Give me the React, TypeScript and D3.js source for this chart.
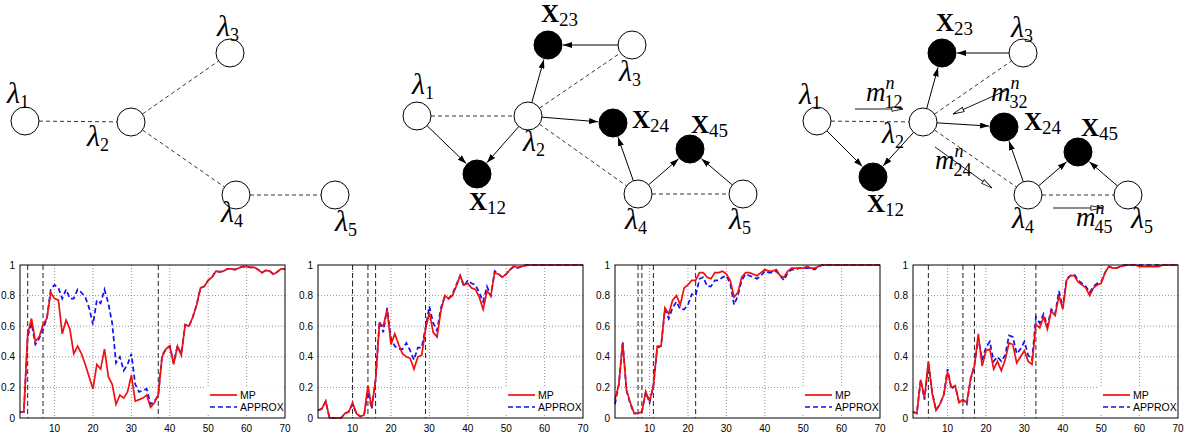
import React from "react";
import * as d3 from "d3";

const W = 1186;
const H = 436;

// ---- chart data (x = 1..70) ----
const mp1 = [0.04,0.04,0.55,0.65,0.50,0.53,0.61,0.65,0.82,0.78,
  0.77,0.55,0.64,0.58,0.42,0.47,0.42,0.35,0.27,0.19,
  0.35,0.32,0.45,0.27,0.22,0.09,0.15,0.13,0.17,0.28,
  0.11,0.12,0.13,0.15,0.07,0.10,0.15,0.40,0.45,0.47,
  0.35,0.47,0.41,0.61,0.60,0.66,0.74,0.85,0.86,0.90,
  0.92,0.96,0.955,0.96,0.975,0.975,0.97,0.98,0.99,0.99,
  0.985,0.985,0.97,0.95,0.965,0.96,0.94,0.955,0.975,0.975];
const approx1 = [0.04,0.04,0.53,0.62,0.48,0.52,0.58,0.65,0.84,0.87,
  0.85,0.78,0.84,0.78,0.78,0.84,0.82,0.79,0.72,0.61,
  0.77,0.75,0.84,0.75,0.62,0.36,0.40,0.31,0.35,0.42,
  0.22,0.17,0.18,0.19,0.09,0.11,0.15,0.41,0.45,0.47,
  0.36,0.47,0.42,0.61,0.60,0.66,0.74,0.85,0.86,0.90,
  0.92,0.96,0.955,0.96,0.975,0.975,0.97,0.98,0.99,0.99,
  0.985,0.985,0.97,0.95,0.965,0.96,0.94,0.955,0.975,0.975];
const mp2 = [0.05,0.06,0.11,0.00,0.00,0.00,0.00,0.03,0.04,0.10,
  0.03,0.01,0.02,0.21,0.07,0.25,0.62,0.60,0.71,0.48,
  0.55,0.48,0.42,0.40,0.39,0.32,0.40,0.41,0.58,0.69,
  0.56,0.53,0.70,0.80,0.78,0.80,0.86,0.93,0.87,0.88,
  0.85,0.84,0.79,0.71,0.83,0.80,0.95,0.94,0.92,0.94,
  0.97,0.99,0.985,0.99,0.995,1,1,1,1,1,
  1,1,1,1,1,1,1,1,1,1];
const approx2 = [0.05,0.06,0.11,0.00,0.00,0.00,0.00,0.03,0.04,0.09,
  0.03,0.01,0.02,0.17,0.06,0.25,0.63,0.56,0.72,0.52,
  0.47,0.45,0.45,0.49,0.44,0.38,0.46,0.46,0.59,0.73,
  0.62,0.57,0.72,0.79,0.78,0.81,0.87,0.93,0.86,0.90,
  0.88,0.87,0.82,0.76,0.86,0.80,0.96,0.94,0.92,0.94,
  0.97,0.99,0.98,0.99,1,1,1,1,1,1,
  1,1,1,1,1,1,1,1,1,1];
const mp3 = [0.12,0.22,0.49,0.18,0.10,0.03,0.03,0.04,0.17,0.11,
  0.21,0.47,0.47,0.72,0.68,0.77,0.80,0.74,0.85,0.87,
  0.90,0.90,0.95,0.95,0.92,0.91,0.95,0.95,0.96,0.94,
  0.90,0.79,0.82,0.92,0.95,0.95,0.94,0.93,0.95,0.97,
  0.96,0.96,0.97,0.93,0.92,0.96,0.98,0.98,0.98,0.98,
  0.99,0.98,0.98,0.99,1,1,1,1,1,1,
  1,1,1,1,1,1,1,1,1,1];
const approx3 = [0.09,0.22,0.50,0.18,0.09,0.03,0.03,0.04,0.17,0.10,
  0.21,0.46,0.47,0.71,0.65,0.72,0.76,0.71,0.71,0.74,
  0.81,0.80,0.91,0.92,0.86,0.86,0.90,0.90,0.92,0.93,
  0.88,0.74,0.80,0.90,0.94,0.93,0.92,0.91,0.93,0.96,
  0.95,0.95,0.96,0.93,0.90,0.95,0.97,0.97,0.98,0.98,
  0.98,0.98,0.97,0.99,1,1,1,1,1,1,
  1,1,1,1,1,1,1,1,1,1];
const mp4 = [0.04,0.03,0.25,0.13,0.37,0.16,0.05,0.09,0.15,0.30,
  0.20,0.21,0.10,0.12,0.10,0.26,0.34,0.55,0.34,0.44,
  0.45,0.32,0.37,0.31,0.38,0.49,0.48,0.36,0.40,0.44,
  0.37,0.35,0.61,0.59,0.66,0.58,0.70,0.67,0.80,0.71,
  0.90,0.93,0.93,0.89,0.87,0.85,0.80,0.85,0.87,0.88,
  0.95,0.99,0.98,0.98,0.99,0.995,1,1,1,0.99,
  0.99,0.99,0.99,0.99,0.99,1,1,1,1,1];
const approx4 = [0.04,0.03,0.25,0.12,0.36,0.17,0.05,0.09,0.15,0.32,
  0.19,0.21,0.10,0.12,0.09,0.25,0.35,0.52,0.38,0.46,
  0.50,0.37,0.40,0.37,0.41,0.54,0.53,0.42,0.45,0.50,
  0.41,0.38,0.66,0.62,0.68,0.60,0.71,0.68,0.83,0.72,
  0.91,0.93,0.94,0.90,0.88,0.86,0.82,0.86,0.88,0.89,
  0.95,0.99,0.98,0.98,0.99,1,1,1,1,1,
  1,1,1,1,1,1,1,1,1,1];

const marks1 = [3, 7, 37];
const marks2 = [10, 14, 16, 29];
const marks3 = [7, 8, 11, 22];
const marks4 = [5, 14, 17, 33];

const xTicks = [10, 20, 30, 40, 50, 60, 70];
const yTicks = [0, 0.2, 0.4, 0.6, 0.8, 1];
const yTickLabels = ["0", "0.2", "0.4", "0.6", "0.8", "1"];
const seriesNames = ["MP", "APPROX"];

const panels = [
  { mp: mp1, approx: approx1, marks: marks1, left: 20 },
  { mp: mp2, approx: approx2, marks: marks2, left: 318 },
  { mp: mp3, approx: approx3, marks: marks3, left: 615 },
  { mp: mp4, approx: approx4, marks: marks4, left: 913 },
];

const plotW = 265;
const plotTop = 265;
const plotBottom = 418;
const axisFont = "'Liberation Sans', Arial, sans-serif";
const texFont = "'Liberation Serif', 'DejaVu Serif', serif";
const red = "#f01010";
const blue = "#1010f0";

function Panel({ mp, approx, marks, left }) {
  const x = d3.scaleLinear().domain([1, 70]).range([left, left + plotW]);
  const y = d3.scaleLinear().domain([0, 1]).range([plotBottom, plotTop]);
  const line = d3.line<number>().x((_, i) => x(i + 1)).y(d => y(d));
  return (
    <g>
      {xTicks.filter(t => t < 70).map(t => (
        <line key={"gx" + t} x1={x(t)} x2={x(t)} y1={plotTop} y2={plotBottom}
          stroke="#777" strokeWidth={0.8} strokeDasharray="1,2" />
      ))}
      {yTicks.filter(t => t > 0 && t < 1).map(t => (
        <line key={"gy" + t} x1={left} x2={left + plotW} y1={y(t)} y2={y(t)}
          stroke="#777" strokeWidth={0.8} strokeDasharray="1,2" />
      ))}
      {marks.map(m => (
        <line key={"m" + m} x1={x(m)} x2={x(m)} y1={plotTop} y2={plotBottom}
          stroke="#222" strokeWidth={1} strokeDasharray="5,3" />
      ))}
      <path d={line(approx) || ""} fill="none" stroke={blue} strokeWidth={1.7} strokeDasharray="5,3" />
      <path d={line(mp) || ""} fill="none" stroke={red} strokeWidth={1.7} />
      <rect x={left} y={plotTop} width={plotW} height={plotBottom - plotTop} fill="none" stroke="#000" strokeWidth={1} />
      {xTicks.map(t => (
        <text key={"xt" + t} x={x(t)} y={plotBottom + 14} fontSize={10} textAnchor="middle" fontFamily={axisFont}>{t}</text>
      ))}
      {yTicks.map((t, i) => (
        <text key={"yt" + t} x={left - 5} y={y(t) + 3.5} fontSize={10} textAnchor="end" fontFamily={axisFont}>{yTickLabels[i]}</text>
      ))}
      <g>
        <rect x={left + 186} y={plotBottom - 31} width={77} height={28} fill="#fff" />
        <line x1={left + 190} x2={left + 217} y1={plotBottom - 23} y2={plotBottom - 23} stroke={red} strokeWidth={1.7} />
        <text x={left + 220} y={plotBottom - 19.5} fontSize={10.5} fontFamily={axisFont}>{seriesNames[0]}</text>
        <line x1={left + 190} x2={left + 217} y1={plotBottom - 11} y2={plotBottom - 11} stroke={blue} strokeWidth={1.7} strokeDasharray="5,3" />
        <text x={left + 220} y={plotBottom - 7.5} fontSize={10.5} fontFamily={axisFont}>{seriesNames[1]}</text>
      </g>
    </g>
  );
}

// ---- graphical model diagrams ----
const R = 14;

function Lam({ x, y, i }) {
  return (
    <text x={x} y={y} fontFamily={texFont} fontSize={30} fontStyle="italic">
      λ<tspan fontSize={18} fontStyle="normal" dy={5}>{i}</tspan>
    </text>
  );
}
function Xl({ x, y, i }) {
  return (
    <text x={x} y={y} fontFamily={texFont} fontSize={25} fontWeight="bold">
      X<tspan fontSize={19} fontWeight="normal" dy={4}>{i}</tspan>
    </text>
  );
}
function Msg({ x, y, i }) {
  return (
    <text x={x} y={y} fontFamily={texFont} fontSize={27} fontStyle="italic">
      m<tspan fontSize={18} dy={-12}>n</tspan>
      <tspan fontSize={18} fontStyle="normal" dx={-10} dy={19}>{i}</tspan>
    </text>
  );
}

function shorten(a, b, ra, rb) {
  const dx = b[0] - a[0], dy = b[1] - a[1];
  const L = Math.hypot(dx, dy);
  return [a[0] + dx * ra / L, a[1] + dy * ra / L, b[0] - dx * rb / L, b[1] - dy * rb / L];
}

function Dashed({ a, b }) {
  const [x1, y1, x2, y2] = shorten(a, b, R, R);
  return <line x1={x1} y1={y1} x2={x2} y2={y2} stroke="#000" strokeWidth={0.8} strokeDasharray="4,3" />;
}
function Arrow({ a, b }) {
  const [x1, y1, x2, y2] = shorten(a, b, R, R + 1);
  return <line x1={x1} y1={y1} x2={x2} y2={y2} stroke="#000" strokeWidth={1} markerEnd="url(#ah)" />;
}
function OpenArrow({ x1, y1, x2, y2 }) {
  return <line x1={x1} y1={y1} x2={x2} y2={y2} stroke="#000" strokeWidth={0.9} markerEnd="url(#oah)" />;
}
function Node({ p, filled }) {
  return <circle cx={p[0]} cy={p[1]} r={R} fill={filled ? "#000" : "#fff"} stroke="#000" strokeWidth={1} />;
}

function Graph1() {
  const n = { l1: [25, 121], l2: [131, 122], l3: [230, 53], l4: [236, 195], l5: [335, 195] };
  return (
    <g>
      <Dashed a={n.l1} b={n.l2} />
      <Dashed a={n.l2} b={n.l3} />
      <Dashed a={n.l2} b={n.l4} />
      <Dashed a={n.l4} b={n.l5} />
      {Object.values(n).map((p, i) => <Node key={i} p={p} filled={false} />)}
      <Lam x={7} y={103} i="1" />
      <Lam x={87} y={146} i="2" />
      <Lam x={217} y={36} i="3" />
      <Lam x={221} y={222} i="4" />
      <Lam x={335} y={231} i="5" />
    </g>
  );
}

function Graph2() {
  const n = { l1: [417, 116], l2: [528, 116], l3: [632, 45], l4: [638, 194], l5: [743, 194] };
  const x = { x12: [477, 174], x23: [548, 45], x24: [613, 123], x45: [690, 149] };
  return (
    <g>
      <Dashed a={n.l1} b={n.l2} />
      <Dashed a={n.l2} b={n.l3} />
      <Dashed a={n.l2} b={n.l4} />
      <Dashed a={n.l4} b={n.l5} />
      <Arrow a={n.l1} b={x.x12} />
      <Arrow a={n.l2} b={x.x12} />
      <Arrow a={n.l2} b={x.x23} />
      <Arrow a={n.l3} b={x.x23} />
      <Arrow a={n.l2} b={x.x24} />
      <Arrow a={n.l4} b={x.x24} />
      <Arrow a={n.l4} b={x.x45} />
      <Arrow a={n.l5} b={x.x45} />
      {Object.values(n).map((p, i) => <Node key={"l" + i} p={p} filled={false} />)}
      {Object.values(x).map((p, i) => <Node key={"x" + i} p={p} filled={true} />)}
      <Lam x={412} y={94} i="1" />
      <Lam x={523} y={151} i="2" />
      <Lam x={619} y={81} i="3" />
      <Lam x={625} y={229} i="4" />
      <Lam x={729} y={229} i="5" />
      <Xl x={541} y={22} i="23" />
      <Xl x={632} y={128} i="24" />
      <Xl x={691} y={133} i="45" />
      <Xl x={469} y={210} i="12" />
    </g>
  );
}

function Graph3() {
  const n = { l1: [817, 121], l2: [923, 122], l3: [1023, 53], l4: [1028, 195], l5: [1128, 195] };
  const x = { x12: [873, 177], x23: [942, 53], x24: [1004, 127], x45: [1078, 152] };
  return (
    <g>
      <Dashed a={n.l1} b={n.l2} />
      <Dashed a={n.l2} b={n.l3} />
      <Dashed a={n.l2} b={n.l4} />
      <Dashed a={n.l4} b={n.l5} />
      <Arrow a={n.l1} b={x.x12} />
      <Arrow a={n.l2} b={x.x12} />
      <Arrow a={n.l2} b={x.x23} />
      <Arrow a={n.l3} b={x.x23} />
      <Arrow a={n.l2} b={x.x24} />
      <Arrow a={n.l4} b={x.x24} />
      <Arrow a={n.l4} b={x.x45} />
      <Arrow a={n.l5} b={x.x45} />
      {Object.values(n).map((p, i) => <Node key={"l" + i} p={p} filled={false} />)}
      {Object.values(x).map((p, i) => <Node key={"x" + i} p={p} filled={true} />)}
      <OpenArrow x1={855} y1={109} x2={903} y2={109} />
      <OpenArrow x1={1007} y1={90} x2={953} y2={114} />
      <OpenArrow x1={935} y1={147} x2={992} y2={188} />
      <OpenArrow x1={1053} y1={208} x2={1102} y2={208} />
      <Lam x={799} y={104} i="1" />
      <Lam x={882} y={143} i="2" />
      <Lam x={1011} y={37} i="3" />
      <Lam x={1012} y={228} i="4" />
      <Lam x={1131} y={228} i="5" />
      <Xl x={936} y={31} i="23" />
      <Xl x={1024} y={130} i="24" />
      <Xl x={1081} y={136} i="45" />
      <Xl x={867} y={212} i="12" />
      <Msg x={866} y={101} i="12" />
      <Msg x={991} y={101} i="32" />
      <Msg x={935} y={169} i="24" />
      <Msg x={1076} y={226} i="45" />
    </g>
  );
}

export default function App() {
  return (
    <svg width={W} height={H} style={{ position: "absolute", left: 0, top: 0, background: "#fff" }}>
      <defs>
        <marker id="ah" viewBox="0 0 10 10" refX={10} refY={5} markerWidth={9} markerHeight={6}
          markerUnits="userSpaceOnUse" orient="auto" preserveAspectRatio="none">
          <path d="M0,0 L10,5 L0,10 z" fill="#000" />
        </marker>
        <marker id="oah" viewBox="0 0 14 8" refX={13} refY={4} markerWidth={13} markerHeight={6}
          markerUnits="userSpaceOnUse" orient="auto" preserveAspectRatio="none">
          <path d="M1,1 L13,4 L1,7 z" fill="#fff" stroke="#000" strokeWidth={1} />
        </marker>
      </defs>
      <Graph1 />
      <Graph2 />
      <Graph3 />
      {panels.map((p, i) => <Panel key={i} {...p} />)}
    </svg>
  );
}
